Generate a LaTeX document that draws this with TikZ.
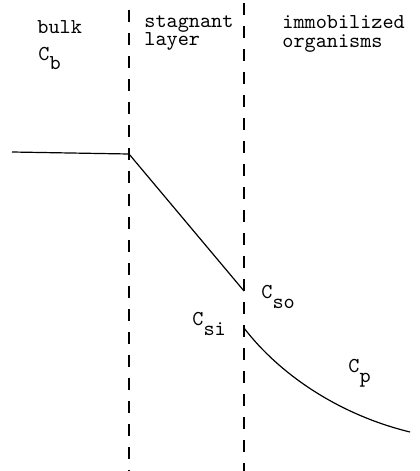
\documentclass[tikz,border=0pt]{standalone}
\usepackage{tikz}
\usetikzlibrary{positioning}
\newcommand{\conc}[1]{C\raisebox{-5pt}{#1}}
\tikzset{
  lbl/.style={font=\ttfamily\fontsize{10.6}{9}\selectfont, inner sep=0pt, anchor=base west},
  wall/.style={draw=black, line width=0.6pt, dash pattern=on 6pt off 5.5pt},
  prof/.style={draw=black, line width=0.6pt},
}
\begin{document}
\begin{tikzpicture}[x=0.5pt, y=-0.5pt]
    \useasboundingbox (0,0) rectangle (419,471);
    % phase boundaries
    \coordinate (w1top) at (129,10);
    \coordinate (w1bot) at (129,471);
    \coordinate (w2top) at (244,3);
    \coordinate (w2bot) at (244,471);
    \draw[wall](w1top)--(w1bot);
    \draw[wall](w2top)--(w2bot);
    % region headings
    \node[lbl] (bulk) at (37,33){bulk};
    \node[lbl] (stag) at (144,27){stagnant};
    \node[lbl] (layer) at (144,46){layer};
    \node[lbl] (immo) at (282,28){immobilized};
    \node[lbl] (orgs) at (282,47){organisms};
    % concentration profile
    \coordinate (p0) at (12,152);
    \coordinate (p1) at (129,154);
    \coordinate (p2) at (244,291);
    \coordinate (p3) at (244,328);
    \coordinate (p4) at (410,432);
    \draw[prof](p0)--(p1)--(p2);
    \draw[prof](p3) .. controls (280,375) and (340,415) .. (p4);
    % labels
    \node[lbl] (cb) at (38,60){\conc{b}};
    \node[lbl] (cso) at (261,298){\conc{so}};
    \node[lbl] (csi) at (192,325){\conc{si}};
    \node[lbl] (cp) at (348,372){\conc{p}};
  \end{tikzpicture}
\end{document}
